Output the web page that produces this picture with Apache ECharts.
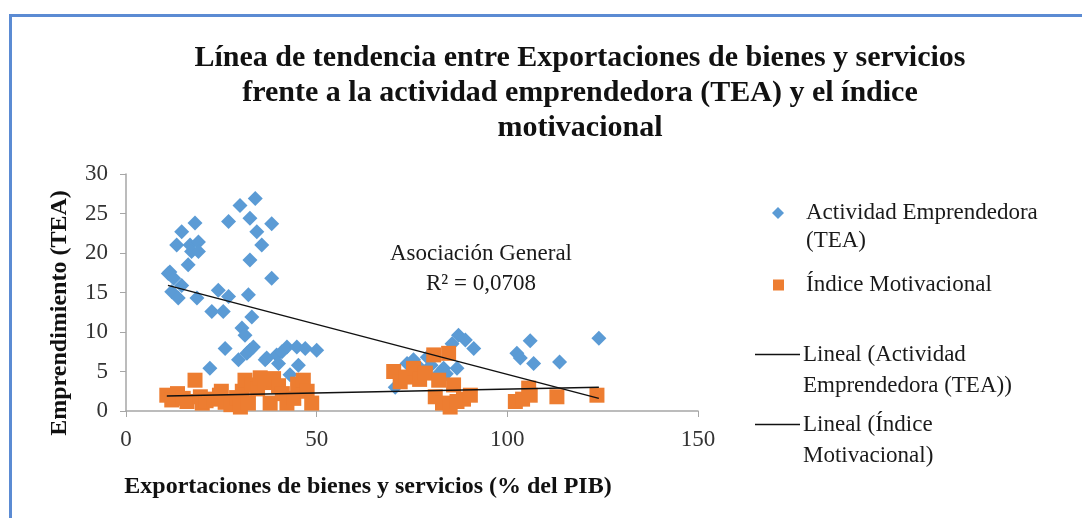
<!DOCTYPE html>
<html>
<head>
<meta charset="utf-8">
<script src="https://cdn.jsdelivr.net/npm/echarts@6/dist/echarts.min.js"></script>
<style>
  html, body { margin: 0; padding: 0; background: #fff; }
  #frame { position: absolute; left: 9px; top: 14px; width: 1090px; height: 520px;
           border-left: 3px solid #5b8bd3; border-top: 3px solid #5b8bd3; }
  #chart { position: absolute; left: 0; top: 0; width: 1082px; height: 518px; }
</style>
</head>
<body>
<div id="frame"></div>
<div id="chart"></div>
<script>
// Actividad Emprendedora (TEA): [exportaciones % PIB, TEA]
const teaPoints = [
  [11.1, 17.4], [11.5, 17.6], [12.0, 15.1], [12.5, 16.8], [13.3, 21.0], [13.7, 14.3],
  [14.6, 22.7], [14.6, 15.9], [16.3, 18.5], [16.8, 21.0], [17.2, 20.2], [18.1, 23.8],
  [18.6, 14.3], [19.0, 21.4], [19.0, 20.2], [22.0, 5.4], [22.5, 12.6], [24.2, 15.3],
  [25.5, 12.6], [26.0, 7.9], [26.9, 24.0], [26.9, 14.5], [29.5, 6.5], [29.9, 26.0],
  [30.4, 10.5], [31.2, 9.6], [31.7, 7.3], [32.1, 14.7], [32.5, 24.4], [32.5, 19.1],
  [32.5, 7.7], [33.0, 11.9], [33.4, 8.1], [33.9, 26.9], [34.3, 22.7], [35.6, 21.0],
  [36.5, 6.5], [36.9, 6.7], [38.2, 23.7], [38.2, 16.8], [39.5, 7.1], [40.0, 6.0],
  [40.9, 7.5], [42.2, 8.1], [43.0, 4.6], [44.8, 8.1], [45.2, 5.8], [47.0, 7.9],
  [50.0, 7.7], [70.6, 3.0], [73.7, 6.0], [75.4, 6.5], [77.0, 5.5], [79.0, 6.8],
  [80.0, 5.8], [81.5, 4.5], [83.3, 5.4], [84.0, 4.7], [86.8, 5.4], [85.5, 8.5],
  [87.2, 9.6], [89.0, 9.0], [91.2, 7.9], [102.5, 7.3], [103.4, 6.7], [106.0, 8.9],
  [106.9, 6.0], [113.7, 6.2], [124.0, 9.2]
];

// Índice Motivacional: [exportaciones % PIB, índice]
const motPoints = [
  [10.7, 2.0], [12.0, 1.4], [13.5, 2.2], [15.0, 1.6], [16.0, 1.2], [18.1, 3.9],
  [19.5, 1.8], [20.0, 1.0], [21.0, 1.3], [23.0, 1.5], [24.5, 2.0], [25.0, 2.5],
  [26.0, 1.1], [27.5, 0.8], [29.0, 1.7], [30.0, 0.5], [30.5, 2.5], [31.2, 3.9],
  [32.1, 1.0], [33.0, 3.3], [34.5, 2.8], [35.2, 4.2], [36.5, 3.6], [37.8, 1.0],
  [38.7, 4.1], [40.0, 3.2], [41.0, 2.2], [42.2, 1.0], [44.0, 1.6], [45.0, 3.4],
  [46.5, 3.9], [47.5, 2.5], [48.7, 1.0], [70.2, 5.0], [71.9, 3.7], [73.5, 4.3],
  [75.4, 5.4], [77.0, 4.0], [78.5, 4.8], [80.7, 7.1], [81.1, 1.8], [82.0, 3.9],
  [83.0, 1.0], [84.6, 7.3], [85.0, 0.5], [85.9, 3.3], [86.8, 1.2], [88.5, 1.5],
  [90.3, 2.0], [102.1, 1.2], [104.0, 1.5], [105.6, 2.9], [106.0, 2.0], [113.0, 1.8],
  [123.5, 2.0]
];

// trend line end points as drawn in the picture
const teaTrend = [[11.0, 15.9], [124.0, 1.6]];
const motTrend = [[10.7, 1.9], [124.0, 3.0]];

const xTicks = { min: 0, max: 150, interval: 50 };
const yTicks = { min: 0, max: 30, interval: 5 };

const titleText = 'Línea de tendencia entre Exportaciones de bienes y servicios\nfrente a la actividad emprendedora (TEA) y el índice\nmotivacional';
const r2Text = 'Asociación General\nR² = 0,0708';

const serif = '"Liberation Serif", "Times New Roman", serif';
const chart = echarts.init(document.getElementById('chart'));

const legendText = (lh, padLeft) => ({
  fontFamily: serif, fontSize: 23, color: '#1a1a1a', lineHeight: lh, padding: [0, 0, 0, padLeft]
});
const legendBase = { orient: 'vertical', padding: 0, itemGap: 0, selectedMode: false };

chart.setOption({
  animation: false,
  title: {
    text: titleText, left: 575, top: 36, textAlign: 'center',
    textStyle: { fontFamily: serif, fontWeight: 'bold', fontSize: 30, lineHeight: 35, color: '#111' }
  },
  grid: { left: 126, right: 384, top: 174, bottom: 107 },
  xAxis: {
    type: 'value', min: xTicks.min, max: xTicks.max, interval: xTicks.interval,
    splitLine: { show: false },
    axisLine: { lineStyle: { color: '#a6a6a6', width: 1.5 } },
    axisTick: { show: true, length: 6, lineStyle: { color: '#a6a6a6' } },
    axisLabel: { fontFamily: serif, fontSize: 23, color: '#333', margin: 17 }
  },
  yAxis: {
    type: 'value', min: yTicks.min, max: yTicks.max, interval: yTicks.interval,
    splitLine: { show: false },
    axisLine: { show: true, lineStyle: { color: '#a6a6a6', width: 1.5 } },
    axisTick: { show: true, length: 6, lineStyle: { color: '#a6a6a6' } },
    axisLabel: { fontFamily: serif, fontSize: 23, color: '#333', margin: 18 }
  },
  legend: [
    Object.assign({}, legendBase, {
      left: 772, top: 171, itemWidth: 12, itemHeight: 12,
      data: [{ name: 'Actividad Emprendedora (TEA)', icon: 'diamond' }],
      formatter: () => ' \nActividad Emprendedora\n(TEA)',
      textStyle: legendText(28, 17)
    }),
    Object.assign({}, legendBase, {
      left: 773, top: 271, itemWidth: 11, itemHeight: 11,
      data: [{ name: 'Índice Motivacional', icon: 'rect' }],
      textStyle: legendText(28, 17)
    }),
    Object.assign({}, legendBase, {
      left: 755, top: 308, itemWidth: 45, itemHeight: 1.5,
      data: [{ name: 'Lineal (Actividad Emprendedora (TEA))', icon: 'rect' }],
      formatter: () => ' \nLineal (Actividad\nEmprendedora (TEA))',
      textStyle: legendText(31, -2)
    }),
    Object.assign({}, legendBase, {
      left: 755, top: 378, itemWidth: 45, itemHeight: 1.5,
      data: [{ name: 'Lineal (Índice Motivacional)', icon: 'rect' }],
      formatter: () => ' \nLineal (Índice\nMotivacional)',
      textStyle: legendText(31, -2)
    })
  ],
  graphic: [
    {
      type: 'text', position: [481, 239],
      style: { text: r2Text, fontFamily: serif, fontSize: 23, lineHeight: 30, fill: '#1a1a1a', align: 'center' }
    },
    {
      type: 'text', position: [368, 487],
      style: { text: 'Exportaciones de bienes y servicios (% del PIB)', fontFamily: serif, fontWeight: 'bold',
               fontSize: 24, fill: '#111', align: 'center', verticalAlign: 'middle' }
    },
    {
      type: 'text', position: [60, 313], rotation: Math.PI / 2,
      style: { text: 'Emprendimiento (TEA)', fontFamily: serif, fontWeight: 'bold',
               fontSize: 24, fill: '#111', align: 'center', verticalAlign: 'middle' }
    }
  ],
  series: [
    {
      name: 'Actividad Emprendedora (TEA)', type: 'scatter', data: teaPoints,
      symbol: 'diamond', symbolSize: 15, itemStyle: { color: '#5b9bd5', opacity: 1 }, z: 2
    },
    {
      name: 'Índice Motivacional', type: 'scatter', data: motPoints,
      symbol: 'rect', symbolSize: 15, itemStyle: { color: '#ed7d31', opacity: 1 }, z: 3
    },
    {
      name: 'Lineal (Actividad Emprendedora (TEA))', type: 'line', data: teaTrend,
      symbol: 'none', lineStyle: { color: '#111', width: 1.5 }, itemStyle: { color: '#111' }, z: 5
    },
    {
      name: 'Lineal (Índice Motivacional)', type: 'line', data: motTrend,
      symbol: 'none', lineStyle: { color: '#111', width: 1.5 }, itemStyle: { color: '#111' }, z: 5
    }
  ]
});
</script>
</body>
</html>
